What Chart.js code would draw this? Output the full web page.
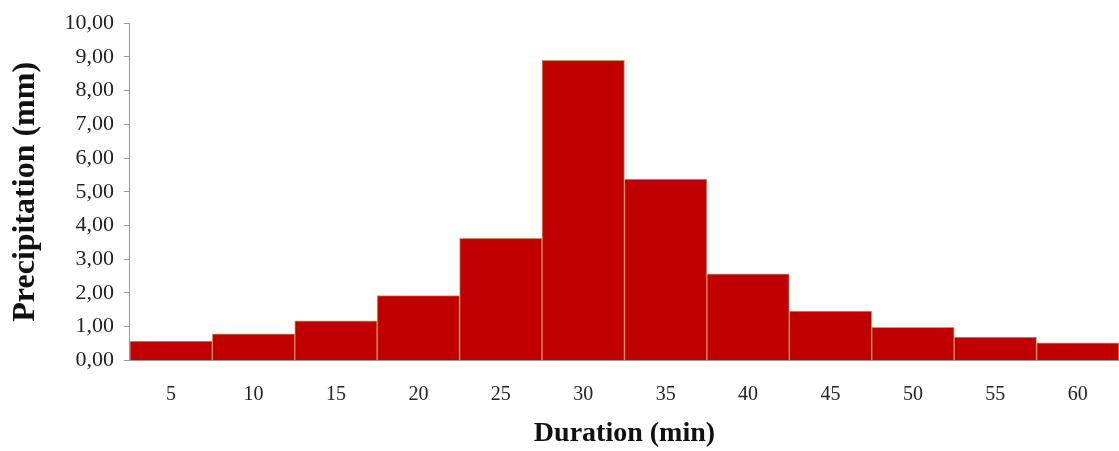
<!DOCTYPE html>
<html>
<head>
<meta charset="utf-8">
<script src="https://cdn.jsdelivr.net/npm/chart.js@4"></script>
<style>
  html, body { margin: 0; padding: 0; background: #fff; }
  #wrap { width: 1119px; height: 451px; }
</style>
</head>
<body>
<div id="wrap"><canvas id="myChart_hist" width="1119" height="451"></canvas></div>
<script>
// durations (min) and precipitation depth (mm)
const durations = ['5', '10', '15', '20', '25', '30', '35', '40', '45', '50', '55', '60'];
const precipitation = [0.57, 0.79, 1.17, 1.92, 3.62, 8.90, 5.38, 2.57, 1.46, 0.98, 0.69, 0.52];
const yTicks = [0, 1, 2, 3, 4, 5, 6, 7, 8, 9, 10];

const serif = "'Liberation Serif', 'DejaVu Serif', serif";
const axisGray = '#9a9a9a';

const myChart_hist = document.getElementById('myChart_hist');

new Chart(myChart_hist, {
  type: 'bar',
  data: {
    labels: durations,
    datasets: [{
      data: precipitation,
      backgroundColor: '#c00000',
      borderColor: '#d8955a',
      borderWidth: 1,
      barPercentage: 1,
      categoryPercentage: 1
    }]
  },
  options: {
    responsive: false,
    animation: false,
    devicePixelRatio: 1,
    layout: { padding: { top: 8, right: 0, bottom: 0, left: 7 } },
    plugins: {
      legend: { display: false },
      tooltip: { enabled: false }
    },
    scales: {
      x: {
        grid: { display: false },
        border: { color: axisGray, width: 2 },
        ticks: { color: '#222', padding: 14, font: { family: serif, size: 20 } },
        title: {
          display: true,
          text: 'Duration (min)',
          color: '#111',
          padding: { top: -3, bottom: 0 },
          font: { family: serif, size: 28, weight: 'bold' }
        }
      },
      y: {
        min: 0,
        max: 10,
        afterBuildTicks: axis => { axis.ticks = yTicks.map(v => ({ value: v })); },
        grid: { drawOnChartArea: false, drawTicks: true, tickLength: 6, color: axisGray },
        border: { color: axisGray, width: 1 },
        ticks: {
          color: '#222',
          padding: 10,
          font: { family: serif, size: 22 },
          callback: v => v.toFixed(2).replace('.', ',')
        },
        title: {
          display: true,
          text: 'Precipitation (mm)',
          color: '#111',
          padding: { top: 0, bottom: 9 },
          font: { family: serif, size: 32, weight: 'bold' }
        }
      }
    }
  }
});
</script>
</body>
</html>
